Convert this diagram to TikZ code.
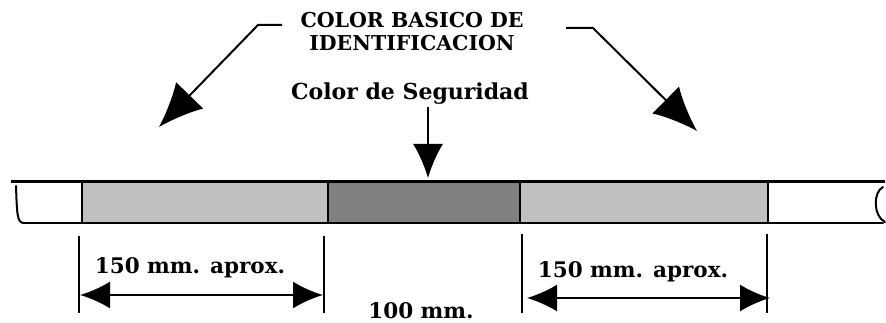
\documentclass[tikz,border=0pt]{standalone}
\usepackage{fontspec}
\setmainfont{DejaVu Serif}
\usepackage{tikz}
\usetikzlibrary{arrows.meta, positioning}
\definecolor{bandlight}{HTML}{C0C0C0}
\definecolor{banddark}{HTML}{808080}

\begin{document}
\begin{tikzpicture}[x=1pt, y=-1pt,
    band/.style={draw=black, line width=1.6pt},
    pipeline/.style={line width=2pt, line cap=round},
    bigarrow/.style={line width=2pt, -{Latex[length=44pt, width=38pt]}},
    dimarrow/.style={line width=2pt, {Latex[length=30pt, width=27pt]}-{Latex[length=30pt, width=27pt]}},
    tick/.style={line width=1.8pt},
    lbl/.style={inner sep=0pt, font=\fontsize{21.5}{24}\selectfont\bfseries}]
    \useasboundingbox (0,0) rectangle (886,323);

    % coloured bands on the pipe
    \fill[bandlight, band] (82,182) rectangle (328,223);
    \fill[banddark, band] (328,182) rectangle (520,223);
    \fill[bandlight, band] (520,182) rectangle (768,223);

    % pipe outline
    \draw[line width=3pt] (11,182) -- (885,182);
    \draw[pipeline] (23,223) -- (883,223);
    \draw[pipeline] (16,186) .. controls (17,214) and (17,223) .. (24,223);
    \draw[pipeline] (883,187) .. controls (873,192) and (873,216) .. (885,222);

    % labels
    \node[lbl, font=\fontsize{20.5}{23}\selectfont\bfseries, align=center, anchor=north] (basic) at (412,12) {COLOR BASICO DE\\IDENTIFICACION};
    \node[lbl, font=\fontsize{22}{26}\selectfont\bfseries, anchor=base] (seg) at (410,100) {Color de Seguridad};
    \node[lbl, anchor=base] (dimL) at (190,273) {150 mm. aprox.};
    \node[lbl, anchor=base] (dimR) at (633,277) {150 mm. aprox.};
    \node[lbl, anchor=base] (dimC) at (421,318) {100 mm.};

    % pointers to the bands
    \coordinate (lstart) at (282,25);
    \coordinate (lbend) at (258,25);
    \coordinate (ltip) at (159,127);
    \coordinate (rstart) at (566,28);
    \coordinate (rbend) at (593,28);
    \coordinate (rtip) at (697,131);
    \coordinate (segtop) at (428,107);
    \coordinate (segtip) at (428,178);
    \draw[bigarrow] (lstart) -- (lbend) -- (ltip);
    \draw[bigarrow] (rstart) -- (rbend) -- (rtip);
    \draw[bigarrow, -{Latex[length=34pt, width=30pt]}] (segtop) -- (segtip);

    % dimension lines
    \foreach \x/\top in {79/236, 324/236, 522/234, 767/234}
        \draw[tick] (\x,\top) -- (\x,313);
    \coordinate (a1) at (80,295);
    \coordinate (a2) at (323,295);
    \coordinate (b1) at (527,298);
    \coordinate (b2) at (770,298);
    \draw[dimarrow] (a1) -- (a2);
    \draw[dimarrow] (b1) -- (b2);
\end{tikzpicture}
\end{document}
